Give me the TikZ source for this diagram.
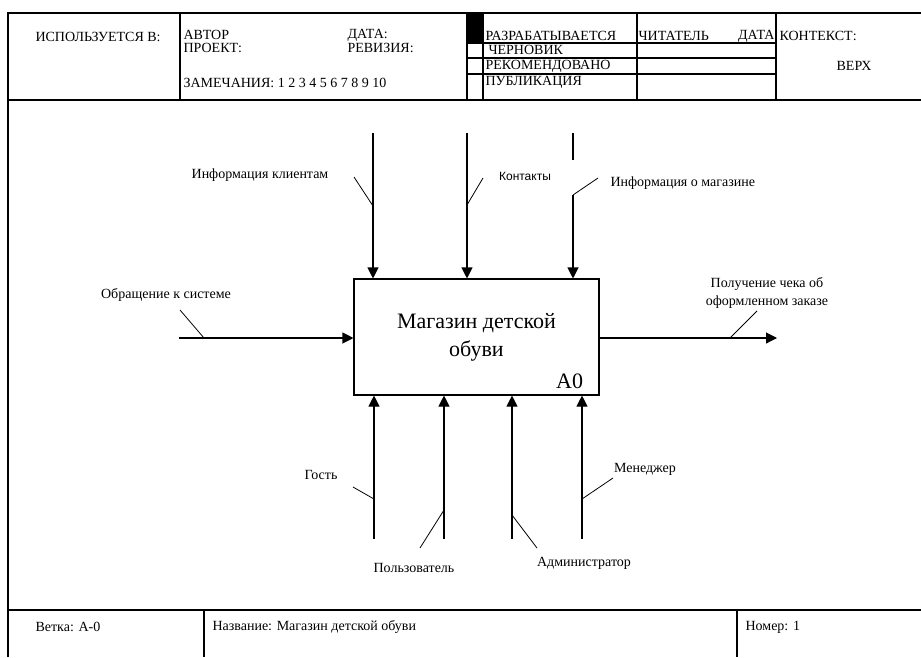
\documentclass[tikz,border=0pt]{standalone}
\usepackage{fontspec}
\setmainfont{Liberation Serif}
\setsansfont{Liberation Sans}
\usetikzlibrary{arrows.meta,positioning}

\begin{document}
\begin{tikzpicture}[x=1pt,y=-1pt,line width=1.1pt,
    flow/.style={-{Triangle[length=11pt,width=11pt]}},
    tick/.style={line width=0.8pt},
    lbl/.style={font=\fontsize{14}{18}\selectfont,inner sep=0pt},
    hdr/.style={font=\fontsize{14}{14}\selectfont,inner sep=0pt,anchor=west},
    func/.style={draw,line width=1.1pt,minimum width=245pt,minimum height=116pt,
      align=center,font=\fontsize{22}{28}\selectfont}]
  \useasboundingbox (0,0) rectangle (921,657);
  \draw (8,657) -- (8,13) -- (921,13);
  \draw (8,100) -- (921,100);
  \draw (8,610) -- (921,610);
  \draw (180,13) -- (180,100);
  \draw (467,13) -- (467,100);
  \draw (483,13) -- (483,100);
  \draw (637,13) -- (637,100);
  \draw (776,13) -- (776,100);
  \fill (467,13) rectangle (483,43);
  \draw (467,43) -- (776,43);
  \draw (467,58) -- (776,58);
  \draw (467,74) -- (776,74);
  \draw (204,610) -- (204,657);
  \draw (737,610) -- (737,657);

  \node[hdr] (usedat) at (35,37) {ИСПОЛЬЗУЕТСЯ В:};
  \node[hdr] (author) at (183,35) {АВТОР};
  \node[hdr] (project) at (183,48) {ПРОЕКТ:};
  \node[hdr] (date) at (347,35) {ДАТА:};
  \node[hdr] (rev) at (347,48) {РЕВИЗИЯ:};
  \node[hdr] (notes) at (183,83) {ЗАМЕЧАНИЯ: 1 2 3 4 5 6 7 8 9 10};
  \node[hdr] (working) at (485,36) {РАЗРАБАТЫВАЕТСЯ};
  \node[hdr] (draft) at (488,50) {ЧЕРНОВИК};
  \node[hdr] (recom) at (485,66) {РЕКОМЕНДОВАНО};
  \node[hdr] (publ) at (485,82) {ПУБЛИКАЦИЯ};
  \node[hdr] (reader) at (638,36) {ЧИТАТЕЛЬ};
  \node[hdr,anchor=east] (rdate) at (775,36) {ДАТА};
  \node[hdr] (context) at (779,36) {КОНТЕКСТ:};
  \node[hdr,anchor=center] (top) at (854,66) {ВЕРХ};

  \node[func] (fn) at (476.5,337) {Магазин детской\\обуви};
  \node[anchor=base east,inner sep=0pt,font=\fontsize{22}{22}\selectfont] (a0)
    at ([xshift=-16pt,yshift=7pt]fn.south east) {A0};

  \coordinate (c1) at (373,133);
  \coordinate (c2) at (467,133);
  \coordinate (c3) at (573,133);
  \coordinate (c3a) at (573,160);
  \coordinate (c3b) at (573,195);
  \draw[flow] (c1) -- (c1 |- fn.north);
  \draw[flow] (c2) -- (c2 |- fn.north);
  \draw (c3) -- (c3a);
  \draw[flow] (c3b) -- (c3 |- fn.north);

  \coordinate (in1) at (179,338);
  \coordinate (out1) at (777,338);
  \draw[flow] (in1) -- (in1 -| fn.west);
  \draw[flow] (out1 -| fn.east) -- (out1);

  \coordinate (m1) at (374,539);
  \coordinate (m2) at (444,539);
  \coordinate (m3) at (512,539);
  \coordinate (m4) at (582,539);
  \draw[flow] (m1) -- (m1 |- fn.south);
  \draw[flow] (m2) -- (m2 |- fn.south);
  \draw[flow] (m3) -- (m3 |- fn.south);
  \draw[flow] (m4) -- (m4 |- fn.south);

  \node[lbl] (clients) at (260,175) {Информация клиентам};
  \node[lbl,font=\sffamily\fontsize{12}{12}\selectfont] (contacts) at (525,176) {Контакты};
  \node[lbl,anchor=west] (shop) at (610,183) {Информация о магазине};
  \node[lbl] (request) at (166,295) {Обращение к системе};
  \node[lbl,align=center] (receipt) at (767,293) {Получение чека об\\оформленном заказе};
  \node[lbl] (guest) at (321,475) {Гость};
  \node[lbl] (user) at (414,568) {Пользователь};
  \node[lbl] (admin) at (584,563) {Администратор};
  \node[lbl] (manager) at (645,469) {Менеджер};

  \draw[tick] (354,177) -- (373,206);
  \draw[tick] (483,178) -- (467,205);
  \draw[tick] (598,178) -- (573,195);
  \draw[tick] (180,310) -- (204,338);
  \draw[tick] (757,311) -- (730,338);
  \draw[tick] (353,487) -- (374,499);
  \draw[tick] (420,548) -- (444,510);
  \draw[tick] (512,515) -- (537,548);
  \draw[tick] (613,478) -- (582,499);

  \node[hdr] (branch) at (35,627) {Ветка: А-0};
  \node[hdr] (title) at (212,627) {Название: Магазин детской обуви};
  \node[hdr] (number) at (745,627) {Номер: 1};
\end{tikzpicture}
\end{document}
